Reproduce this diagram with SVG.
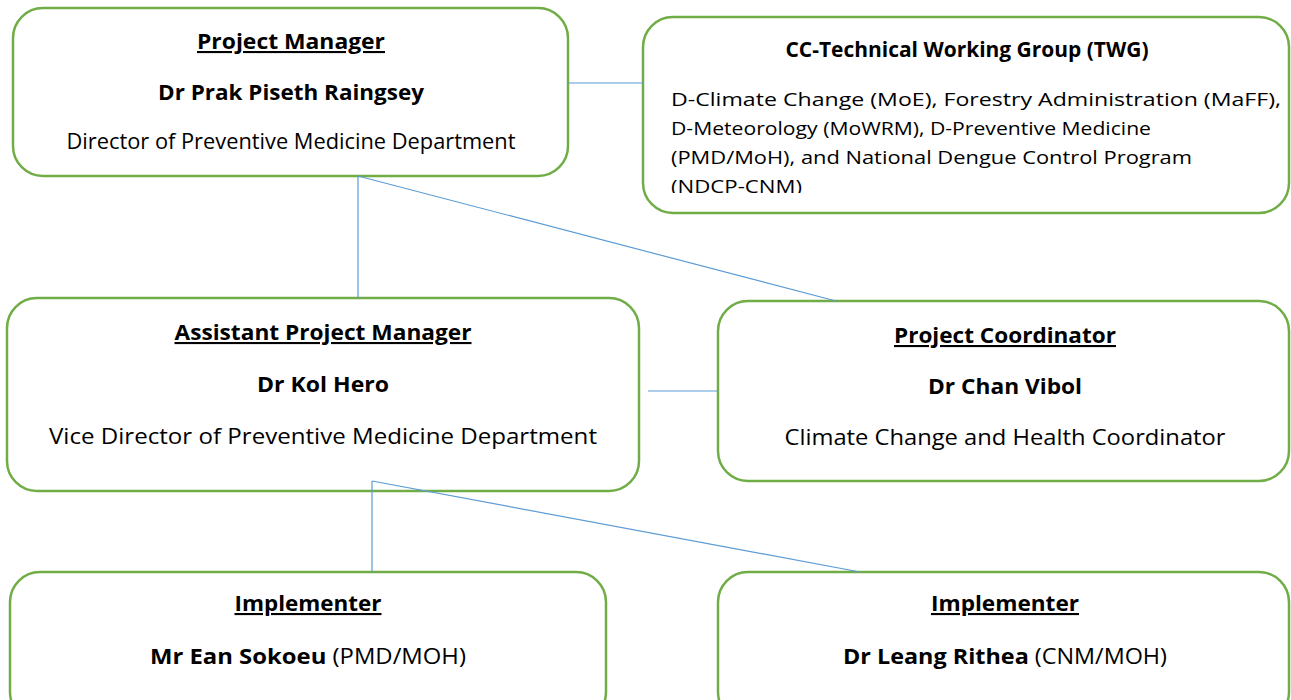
<svg xmlns="http://www.w3.org/2000/svg" width="1291" height="700" viewBox="0 0 1291 700">
<style>
.box{fill:#fff;stroke:#70AD47;stroke-width:2.5}
.con{stroke:#5B9BD5;stroke-width:1.2;fill:none}
text{font-family:"Open Sans","Liberation Sans",sans-serif;fill:#000;font-size:21px;text-anchor:middle}
.h{font-weight:bold;text-decoration:underline}
.b{font-weight:bold}
.s{font-size:19px;text-anchor:start}
</style>
<defs>
<clipPath id="twgclip"><rect x="643" y="17" width="648" height="176"/></clipPath>
</defs>
<rect width="1291" height="700" fill="#fff"/>
<g id="pm">
<rect class="box" x="13" y="8" width="555" height="168" rx="30"/>
<text class="h" x="291" y="49" textLength="188" lengthAdjust="spacingAndGlyphs">Project Manager</text>
<text class="b" x="291" y="100" textLength="266" lengthAdjust="spacingAndGlyphs">Dr Prak Piseth Raingsey</text>
<text x="291" y="149" textLength="449" lengthAdjust="spacingAndGlyphs">Director of Preventive Medicine Department</text>
</g>
<g id="twg">
<rect class="box" x="643" y="17" width="646" height="196" rx="30"/>
<text class="b" x="967" y="57" font-size="19.5" textLength="363" lengthAdjust="spacingAndGlyphs">CC-Technical Working Group (TWG)</text>
<g clip-path="url(#twgclip)">
<text class="s" x="671" y="106" textLength="610" lengthAdjust="spacingAndGlyphs">D-Climate Change (MoE), Forestry Administration (MaFF),</text>
<text class="s" x="671" y="135" textLength="480" lengthAdjust="spacingAndGlyphs">D-Meteorology (MoWRM), D-Preventive Medicine</text>
<text class="s" x="671" y="164" textLength="521" lengthAdjust="spacingAndGlyphs">(PMD/MoH), and National Dengue Control Program</text>
<text class="s" x="671" y="193" textLength="131" lengthAdjust="spacingAndGlyphs">(NDCP-CNM)</text>
</g>
</g>
<g id="apm">
<rect class="box" x="7" y="298" width="632" height="193" rx="30"/>
<text class="h" x="323" y="340" textLength="297" lengthAdjust="spacingAndGlyphs">Assistant Project Manager</text>
<text class="b" x="323" y="392" textLength="132" lengthAdjust="spacingAndGlyphs">Dr Kol Hero</text>
<text x="323" y="444" font-size="22" textLength="548" lengthAdjust="spacingAndGlyphs">Vice Director of Preventive Medicine Department</text>
</g>
<g id="pc">
<rect class="box" x="718" y="301" width="571" height="180" rx="30"/>
<text class="h" x="1005" y="343" textLength="222" lengthAdjust="spacingAndGlyphs">Project Coordinator</text>
<text class="b" x="1005" y="394" textLength="154" lengthAdjust="spacingAndGlyphs">Dr Chan Vibol</text>
<text x="1005" y="445" font-size="22" textLength="441" lengthAdjust="spacingAndGlyphs">Climate Change and Health Coordinator</text>
</g>
<g id="impl1">
<rect class="box" x="10" y="572" width="596" height="150" rx="30"/>
<text class="h" x="308" y="611" textLength="147" lengthAdjust="spacingAndGlyphs">Implementer</text>
<text x="308" y="664" textLength="316" lengthAdjust="spacingAndGlyphs"><tspan class="b">Mr Ean Sokoeu</tspan> (PMD/MOH)</text>
</g>
<g id="impl2">
<rect class="box" x="718" y="572" width="571" height="150" rx="30"/>
<text class="h" x="1005" y="611" textLength="148" lengthAdjust="spacingAndGlyphs">Implementer</text>
<text x="1005" y="664" textLength="324" lengthAdjust="spacingAndGlyphs"><tspan class="b">Dr Leang Rithea</tspan> (CNM/MOH)</text>
</g>
<g id="connectors">
<line class="con" x1="568" y1="83" x2="643" y2="83"/>
<line class="con" x1="358" y1="176" x2="358" y2="298"/>
<line class="con" x1="358" y1="176" x2="836" y2="301"/>
<line class="con" x1="648" y1="391" x2="718" y2="391"/>
<line class="con" x1="372" y1="481" x2="372" y2="572"/>
<line class="con" x1="372" y1="481" x2="860" y2="572"/>
</g>
</svg>
